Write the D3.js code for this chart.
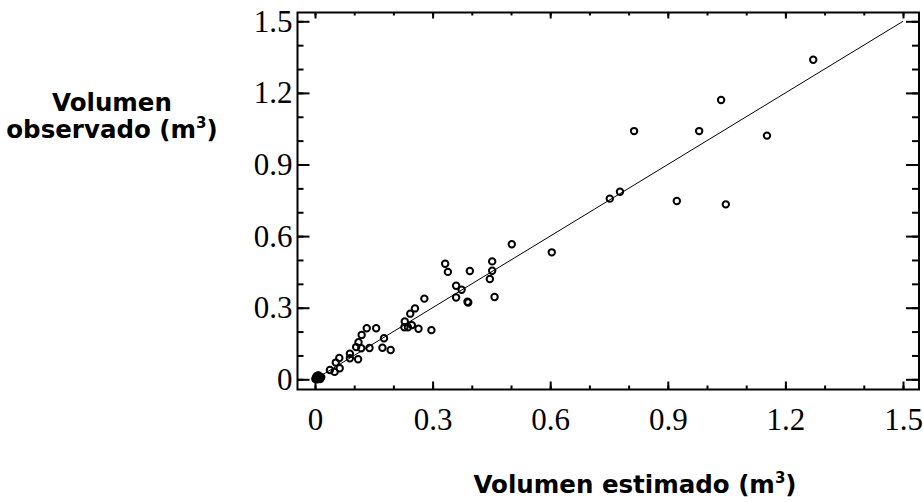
<!DOCTYPE html>
<html>
<head>
<meta charset="utf-8">
<script src="https://cdn.jsdelivr.net/npm/d3@7"></script>
<style>
  body { margin: 0; background: #fff; }
  .tick text { font-family: "Liberation Serif", "Times New Roman", serif; font-size: 31px; fill: #000; }
  .title { font-family: "DejaVu Sans", Verdana, sans-serif; font-weight: bold; font-size: 24.5px; fill: #000; }
</style>
</head>
<body>
<div id="chart"></div>
<script>
var svgWidth = 923;
var svgHeight = 502;

// volumen estimado (x) / volumen observado (y), m3
var estimated = [
  1.271, 1.036, 0.814, 0.980, 1.153, 0.778, 0.752, 0.923, 1.048,
  0.604, 0.502, 0.452, 0.452, 0.446, 0.458, 0.332, 0.339, 0.395,
  0.360, 0.374, 0.360, 0.389, 0.391, 0.279, 0.255, 0.243, 0.229,
  0.228, 0.237, 0.247, 0.264, 0.297, 0.176, 0.172, 0.193, 0.156,
  0.132, 0.119, 0.111, 0.105, 0.118, 0.139, 0.089, 0.089, 0.110,
  0.062, 0.053, 0.063, 0.038, 0.050,
  0.002, 0.005, 0.008, 0.004, 0.010, 0.006, 0.012, 0.003,
  0.001, 0.014, 0.009, 0.016, 0.007, 0.013, 0.004, 0.011,
  0.006, 0.009
];
var observed = [
  1.339, 1.170, 1.040, 1.040, 1.021, 0.786, 0.757, 0.747, 0.733,
  0.532, 0.566, 0.494, 0.455, 0.420, 0.345, 0.484, 0.450, 0.454,
  0.392, 0.375, 0.343, 0.325, 0.322, 0.338, 0.297, 0.275, 0.242,
  0.218, 0.218, 0.227, 0.212, 0.206, 0.172, 0.132, 0.123, 0.214,
  0.214, 0.186, 0.155, 0.135, 0.130, 0.131, 0.107, 0.088, 0.084,
  0.089, 0.070, 0.046, 0.039, 0.031,
  0.003, 0.006, 0.004, 0.010, 0.008, 0.002, 0.011, 0.007,
  0.001, 0.004, 0.013, 0.009, 0.015, 0.001, 0.013, 0.005,
  0.000, 0.016
];

var majorTicks = [0, 0.3, 0.6, 0.9, 1.2, 1.5];
var minorTicks = d3.range(0, 16).map(d => d / 10);
var tickLabels = ["0", "0.3", "0.6", "0.9", "1.2", "1.5"];

// 1:1 reference line
var lineStart = 0;
var lineEnd = 1.5;

var frame = { left: 297.5, right: 919, top: 12.5, bottom: 389.5 };

var svg = d3.select("#chart")
  .append("svg")
  .attr("width", svgWidth)
  .attr("height", svgHeight);

var xScale = d3.scaleLinear()
  .domain([0, 1.5])
  .range([315, 903]);

var yScale = d3.scaleLinear()
  .domain([0, 1.5])
  .range([379.3, 21.3]);

var fmt = d => tickLabels[majorTicks.indexOf(d)];

// inward ticks, labels only on the major bottom/left sets
function drawAxis(axisFn, scale, pos, values, size, labels, padding) {
  var ax = axisFn(scale)
    .tickValues(values)
    .tickSizeInner(-size)
    .tickSizeOuter(0)
    .tickPadding(padding || 0)
    .tickFormat(labels ? fmt : "");
  var g = svg.append("g")
    .attr("transform", pos)
    .call(ax);
  g.select(".domain").remove();
  g.selectAll(".tick line").attr("stroke", "#000").attr("stroke-width", 2);
  return g;
}

drawAxis(d3.axisBottom, xScale, `translate(0,${frame.bottom})`, minorTicks, 4, false);
drawAxis(d3.axisBottom, xScale, `translate(0,${frame.bottom})`, majorTicks, 8, true, 18);
drawAxis(d3.axisTop, xScale, `translate(0,${frame.top})`, minorTicks, 3, false);
drawAxis(d3.axisTop, xScale, `translate(0,${frame.top})`, majorTicks, 6, false);
drawAxis(d3.axisLeft, yScale, `translate(${frame.left},0)`, minorTicks, 6, false);
drawAxis(d3.axisLeft, yScale, `translate(${frame.left},0)`, majorTicks, 12, true, 5);
drawAxis(d3.axisRight, yScale, `translate(${frame.right},0)`, minorTicks, 7, false);
drawAxis(d3.axisRight, yScale, `translate(${frame.right},0)`, majorTicks, 13, false);

svg.selectAll(".tick text").attr("font-family", null).attr("font-size", null);

// frame
svg.append("rect")
  .attr("x", frame.left)
  .attr("y", frame.top)
  .attr("width", frame.right - frame.left)
  .attr("height", frame.bottom - frame.top)
  .attr("fill", "none")
  .attr("stroke", "#000")
  .attr("stroke-width", 2);

// 1:1 line
svg.append("line")
  .attr("x1", xScale(lineStart))
  .attr("y1", yScale(lineStart))
  .attr("x2", xScale(lineEnd))
  .attr("y2", yScale(lineEnd))
  .attr("stroke", "#000")
  .attr("stroke-width", 1);

// points
svg.append("g")
  .selectAll("circle")
  .data(estimated.map((d, i) => [d, observed[i]]))
  .enter()
  .append("circle")
  .attr("cx", d => xScale(d[0]))
  .attr("cy", d => yScale(d[1]))
  .attr("r", 3.2)
  .attr("fill", "none")
  .attr("stroke", "#000")
  .attr("stroke-width", 2);

// axis titles
var yTitle = svg.append("text")
  .attr("class", "title")
  .attr("text-anchor", "middle");
yTitle.append("tspan").attr("x", 112).attr("y", 111).text("Volumen");
yTitle.append("tspan").attr("x", 112).attr("y", 138).text("observado (m");
yTitle.append("tspan").attr("dy", -10).attr("font-size", 15).text("3");
yTitle.append("tspan").attr("dy", 10).text(")");

var xTitle = svg.append("text")
  .attr("class", "title")
  .attr("text-anchor", "middle")
  .attr("x", 635)
  .attr("y", 493);
xTitle.append("tspan").text("Volumen estimado (m");
xTitle.append("tspan").attr("dy", -10).attr("font-size", 15).text("3");
xTitle.append("tspan").attr("dy", 10).text(")");
</script>
</body>
</html>
